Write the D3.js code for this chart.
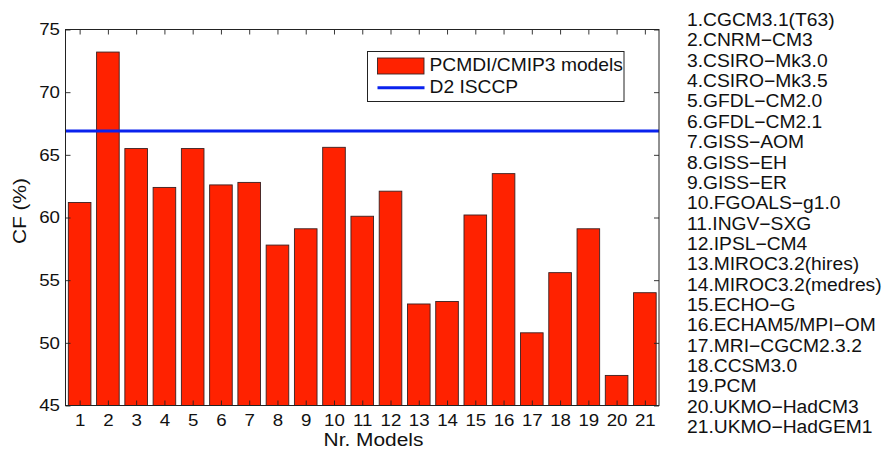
<!DOCTYPE html>
<html>
<head>
<meta charset="utf-8">
<script src="https://cdn.jsdelivr.net/npm/d3@7"></script>
<style>
  html, body { margin: 0; padding: 0; background: #fff; }
  svg { display: block; font-family: "Liberation Sans", Arial, Helvetica, sans-serif; }
</style>
</head>
<body>
<svg id="chart" width="884" height="449"></svg>
<script>
// Model numbers on the x axis
const modelIds = d3.range(1, 22);
// Mean cloud fraction (%) for each CMIP3 model
const cfValues = [61.2, 73.2, 65.5, 62.4, 65.5, 62.6, 62.8, 57.8, 59.1, 65.6,
                  60.1, 62.1, 53.1, 53.3, 60.2, 63.5, 50.8, 55.6, 59.1, 47.4, 54.0];
// Observed reference value (ISCCP D2)
const isccpValue = 66.9;
// Model names listed beside the chart
const modelNames = ["CGCM3.1(T63)", "CNRM\u2212CM3", "CSIRO\u2212Mk3.0", "CSIRO\u2212Mk3.5",
  "GFDL\u2212CM2.0", "GFDL\u2212CM2.1", "GISS\u2212AOM", "GISS\u2212EH", "GISS\u2212ER",
  "FGOALS\u2212g1.0", "INGV\u2212SXG", "IPSL\u2212CM4", "MIROC3.2(hires)", "MIROC3.2(medres)",
  "ECHO\u2212G", "ECHAM5/MPI\u2212OM", "MRI\u2212CGCM2.3.2", "CCSM3.0", "PCM",
  "UKMO\u2212HadCM3", "UKMO\u2212HadGEM1"];
const yTicks = [45, 50, 55, 60, 65, 70, 75];
const legendLabels = ["PCMDI/CMIP3 models", "D2 ISCCP"];

const svg = d3.select("#chart");
const plot = { left: 65.5, right: 659, top: 29.5, bottom: 405.5 };

const x = d3.scaleLinear().domain([0.5, 21.5]).range([plot.left, plot.right]);
const y = d3.scaleLinear().domain([45, 75]).range([plot.bottom, plot.top]);
const barW = (x(1.4) - x(0.6));

const barColor = "#ff2200";
const lineColor = "#0a22ee";
const textColor = "#111";

// Widen glyphs horizontally around their anchor point (Helvetica-like look)
function widen(sel, k) {
  sel.each(function () {
    const t = d3.select(this);
    const x0 = +t.attr("x") || 0;
    t.attr("transform", `translate(${x0 * (1 - k)},0) scale(${k},1)`);
  });
}

// Bars
svg.append("g").selectAll("rect").data(cfValues).join("rect")
  .attr("x", (d, i) => x(modelIds[i]) - barW / 2)
  .attr("width", barW)
  .attr("y", d => y(d))
  .attr("height", d => y(45) - y(d))
  .attr("fill", barColor)
  .attr("stroke", "#3a2020")
  .attr("stroke-width", 0.9);

// Reference line
svg.append("line")
  .attr("x1", plot.left).attr("x2", plot.right)
  .attr("y1", y(isccpValue)).attr("y2", y(isccpValue))
  .attr("stroke", lineColor).attr("stroke-width", 3);

// Axes (ticks point inward, mirrored on top and right)
const tickLen = 5;
const axisFont = 17;
const bottomAxis = d3.axisBottom(x).tickValues(modelIds).tickSize(-tickLen).tickPadding(8.5).tickFormat(d3.format("d"));
const topAxis = d3.axisTop(x).tickValues(modelIds).tickSize(-tickLen).tickFormat("");
const leftAxis = d3.axisLeft(y).tickValues(yTicks).tickSize(-tickLen).tickPadding(5.5).tickFormat(d3.format("d"));
const rightAxis = d3.axisRight(y).tickValues(yTicks).tickSize(-tickLen).tickFormat("");

function styleAxis(g) {
  g.select(".domain").remove();
  g.selectAll(".tick line").attr("stroke", "#222").attr("stroke-width", 0.9);
  g.selectAll(".tick text").attr("fill", textColor).attr("font-size", axisFont)
    .attr("font-family", "'Liberation Sans', Arial, Helvetica, sans-serif")
    .call(widen, 1.1);
}
svg.append("g").attr("transform", `translate(0,${plot.bottom})`).call(bottomAxis).call(styleAxis);
svg.append("g").attr("transform", `translate(0,${plot.top})`).call(topAxis).call(styleAxis);
svg.append("g").attr("transform", `translate(${plot.left},0)`).call(leftAxis).call(styleAxis);
svg.append("g").attr("transform", `translate(${plot.right},0)`).call(rightAxis).call(styleAxis);

// Plot frame
svg.append("rect")
  .attr("x", plot.left).attr("y", plot.top)
  .attr("width", plot.right - plot.left).attr("height", plot.bottom - plot.top)
  .attr("fill", "none").attr("stroke", "#222").attr("stroke-width", 1);

// Axis titles
svg.append("text")
  .attr("transform", `translate(25.5,211) rotate(-90) scale(1.1,1)`)
  .attr("text-anchor", "middle").attr("font-size", 19).attr("fill", textColor)
  .text("CF (%)");
svg.append("text")
  .attr("x", 373.5).attr("y", 446.5)
  .attr("text-anchor", "middle").attr("font-size", 19).attr("fill", textColor)
  .text("Nr. Models")
  .call(widen, 1.1);

// Legend
const lg = svg.append("g").attr("transform", "translate(367.5,51.5)");
lg.append("rect").attr("width", 256.5).attr("height", 50)
  .attr("fill", "#fff").attr("stroke", "#222").attr("stroke-width", 1);
lg.append("rect").attr("x", 10).attr("y", 6.5).attr("width", 46.5).attr("height", 16)
  .attr("fill", barColor).attr("stroke", "#3a2020").attr("stroke-width", 0.9);
lg.append("line").attr("x1", 10).attr("x2", 57).attr("y1", 36.3).attr("y2", 36.3)
  .attr("stroke", lineColor).attr("stroke-width", 3);
lg.selectAll("text.lab").data(legendLabels).join("text")
  .attr("class", "lab")
  .attr("x", 62).attr("y", (d, i) => 20 + i * 21.5)
  .attr("font-size", 18.5).attr("fill", textColor)
  .text(d => d)
  .call(widen, 1.04);

// Model name list
svg.append("g").selectAll("text").data(modelNames).join("text")
  .attr("x", 687)
  .attr("y", (d, i) => 26 + i * 20.36)
  .attr("font-size", 18).attr("fill", textColor)
  .text((d, i) => `${modelIds[i]}.${d}`)
  .call(widen, 1.07);
</script>
</body>
</html>
